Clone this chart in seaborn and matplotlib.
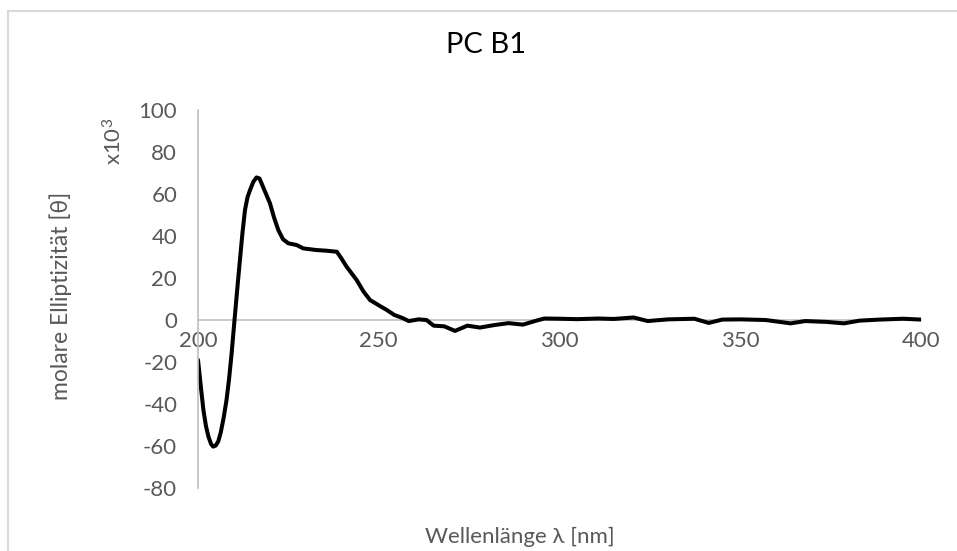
import matplotlib
matplotlib.use("Agg")
import matplotlib.pyplot as plt
from matplotlib.lines import Line2D
import seaborn as sns
import pandas as pd

title = "PC B1"
x_label = "Wellenlänge λ [nm]"
y_label = "molare Elliptizität [θ]"
scale_label = "x10$^{3}$"
x_ticks = [200, 250, 300, 350, 400]
y_ticks = [-80, -60, -40, -20, 0, 20, 40, 60, 80, 100]

wavelength = [200, 200.8, 201.5, 202.2, 202.9, 203.6, 204.2, 204.9, 205.6, 206.3, 207.1, 207.9, 208.6, 209.3, 210.1,
              210.9, 211.6, 212.3, 213.0, 213.7, 214.4, 215.3, 216.2, 217.0, 217.6, 218.7, 219.9, 221.0, 222.2, 223.5, 225.0, 227.3,
              229.1, 232.8, 235.5, 238.4, 239.6, 241.1, 243.9, 245.8, 247.6, 250.3, 252.2, 254.3,
              256.5, 258.3, 261, 263.2, 265.2, 268.1, 271.1, 274.5, 278.0, 282.0,
              285.9, 289.9, 293.8, 295.8, 300, 305, 310.6, 315, 320.5, 324.4,
              330, 337.3, 341.3, 345, 350, 357, 363.9, 368, 373.8, 378.7,
              383, 388.6, 395, 400]
ellipticity = [-19, -32, -42.9, -50.5, -55.6, -59.0, -60.3, -59.8, -57.8, -53.5, -46.5, -38, -28, -15.9, 0,
               15.5, 28.6, 41.5, 52.4, 58.5, 61.9, 65.8, 67.9, 67.4, 65, 60.5, 55.6, 49, 42.9, 38.5, 36.5, 35.7,
               34.1, 33.3, 33, 32.5, 29.5, 25.4, 19, 13.5, 9.5, 6.7, 4.8, 2.4,
               1.0, -0.5, 0.3, 0, -2.7, -3, -5.2, -2.7, -3.6, -2.4,
               -1.5, -2.2, -0.2, 0.7, 0.6, 0.4, 0.7, 0.5, 1.2, -0.5,
               0.3, 0.6, -1.4, 0.2, 0.3, 0, -1.6, -0.5, -0.9, -1.6,
               -0.3, 0.2, 0.6, 0.2]

df = pd.DataFrame({"wl": wavelength, "theta": ellipticity})

plt.rcParams['font.family'] = ['Lato', 'DejaVu Sans']
plt.rcParams['mathtext.fontset'] = 'custom'
plt.rcParams['mathtext.rm'] = 'Lato'
plt.rcParams['mathtext.it'] = 'Lato'
plt.rcParams['mathtext.bf'] = 'Lato'
W, H = 957, 551
fig = plt.figure(figsize=(W / 100, H / 100), dpi=100)
ax = fig.add_axes([198 / W, 1 - 488 / H, (921 - 198) / W, (488 - 110) / H])

sns.lineplot(data=df, x="wl", y="theta", ax=ax, color="black", linewidth=2.9,
             sort=False, estimator=None)
for ln in ax.lines:
    ln.set_solid_joinstyle("round")
    ln.set_solid_capstyle("round")

gray_txt = "#595959"
axis_col = "#BFBFBF"
ax.set_xlim(200, 400)
ax.set_ylim(-80, 100)
ax.set_xticks(x_ticks)
ax.set_yticks(y_ticks)
ax.set_xticklabels([str(t) for t in x_ticks])
ax.set_yticklabels([str(t) for t in y_ticks])
for s in ["top", "right"]:
    ax.spines[s].set_visible(False)
ax.spines["bottom"].set_position(("data", 0))
ax.spines["bottom"].set_color(axis_col)
ax.spines["left"].set_color(axis_col)
ax.spines["bottom"].set_linewidth(1.2)
ax.spines["left"].set_linewidth(1.2)
ax.spines["bottom"].set_zorder(0)
ax.tick_params(axis="both", length=0, labelsize=16, colors=gray_txt)
ax.tick_params(axis="x", pad=8)
ax.tick_params(axis="y", pad=15)
ax.set_xlabel("")
ax.set_ylabel("")
ax.patch.set_alpha(0)

fig.text(486 / W, 1 - 45 / H, title, ha="center", va="center", fontsize=21, color="black")
fig.text(520 / W, 1 - 537 / H, x_label, ha="center", va="center", fontsize=16, color=gray_txt)
fig.text(61 / W, 1 - 296 / H, y_label, ha="center", va="center", rotation=90, fontsize=16.5, color=gray_txt)
fig.text(114 / W, 1 - 141 / H, scale_label, ha="center", va="center", rotation=90, fontsize=16, color=gray_txt)

border = "#D9D9D9"
fig.add_artist(Line2D([8 / W, 1], [1 - 11 / H, 1 - 11 / H], color=border, lw=1.5, transform=fig.transFigure))
fig.add_artist(Line2D([8 / W, 8 / W], [0, 1 - 11 / H], color=border, lw=1.5, transform=fig.transFigure))

fig.savefig("out.png", dpi=100)
